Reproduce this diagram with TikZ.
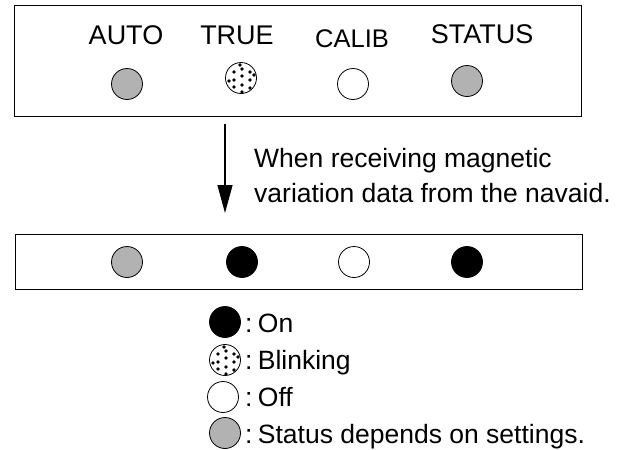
\documentclass[tikz,border=0pt]{standalone}
\usetikzlibrary{arrows.meta}
\usepackage{fontspec}
\setmainfont{Liberation Sans}
\tikzset{
  x=1pt,y=-1pt,
  panel/.style={draw=black,line width=1pt,fill=none},
  lamp/.style={circle,draw=black,line width=0.8pt,minimum size=31pt,inner sep=0pt},
  grey/.style={lamp,fill=black!30},
  off/.style={lamp,fill=white},
  on/.style={lamp,fill=black},
  lbl/.style={font=\fontsize{27pt}{30pt}\selectfont,inner sep=0pt,text=black,anchor=base},
  txt/.style={font=\fontsize{26.5pt}{30pt}\selectfont,inner sep=0pt,anchor=base west,text=black},
}
\newcommand{\blinkdots}[1]{%
  \foreach \dx/\dy in {1/-9,-7/-6,9/-6,1/-2,-7/2,9/2,1/7,-7/9,9/10,1/14,-12/3,-1/-13,13/-3}{
    \fill[black] ([xshift=\dx pt,yshift=-\dy pt]#1.center) circle (1.8pt);
  }}
\newcommand{\cs}{:\kern-2pt\ }
\begin{document}
\begin{tikzpicture}
\useasboundingbox (0,0) rectangle (619,450);
\node[panel,minimum width=567pt,minimum height=111pt,inner sep=0pt] (top) at (297.5,60.5) {};
\node[panel,minimum width=567pt,minimum height=55pt,inner sep=0pt] (bot) at (298.5,261.5) {};
\node[lbl] (l1) at (126,44) {AUTO};
\node[lbl] (l2) at (237,44) {TRUE};
\node[lbl,font=\fontsize{25.5pt}{30pt}\selectfont] (l3) at (352,47) {CALIB};
\node[lbl] (l4) at (482,43) {STATUS};
\node[grey] (a1) at (127,84) {};
\node[off] (b1) at (241,78) {};
\blinkdots{b1}
\node[off] (c1) at (353,84) {};
\node[grey] (d1) at (467,81) {};
\node[grey] (a2) at (127,262) {};
\node[on] (b2) at (242,262) {};
\node[off] (c2) at (354,262) {};
\node[on] (d2) at (467,262) {};
\coordinate (s) at (225,124);
\coordinate (e) at (225,213);
\draw[line width=1.3pt,-{Triangle[length=28pt,width=15pt]}] (s) -- (e);
\node[txt] (m1) at (254,167) {When receiving magnetic};
\node[txt] (m2) at (254,202) {variation data from the navaid.};
\node[on] (k1) at (225,322) {};
\node[off] (k2) at (225,360) {};
\blinkdots{k2}
\node[off] (k3) at (223,397) {};
\node[grey] (k4) at (225,433) {};
\node[txt] (t1) at (245,332) {\cs On};
\node[txt] (t2) at (245,369) {\cs Blinking};
\node[txt] (t3) at (245,406) {\cs Off};
\node[txt] (t4) at (245,443) {\cs Status depends on settings.};
\end{tikzpicture}
\end{document}
